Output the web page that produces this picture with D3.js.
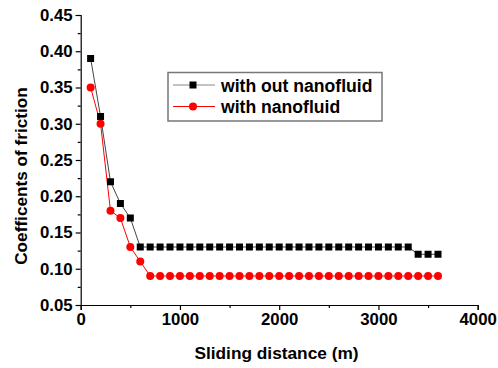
<!DOCTYPE html>
<html><head><meta charset="utf-8">
<script src="https://cdn.jsdelivr.net/npm/d3@7"></script>
<style>
html,body{margin:0;padding:0;background:#fff;}
svg{display:block;font-family:"Liberation Sans",Arial,sans-serif;}
</style></head>
<body>
<svg id="chart" width="498" height="368"></svg>
<script>
const distances = [100,200,300,400,500,600,700,800,900,1000,1100,1200,1300,1400,1500,1600,1700,1800,1900,2000,2100,2200,2300,2400,2500,2600,2700,2800,2900,3000,3100,3200,3300,3400,3500,3600];
const withoutNano = [0.39,0.31,0.22,0.19,0.17,0.13,0.13,0.13,0.13,0.13,0.13,0.13,0.13,0.13,0.13,0.13,0.13,0.13,0.13,0.13,0.13,0.13,0.13,0.13,0.13,0.13,0.13,0.13,0.13,0.13,0.13,0.13,0.13,0.12,0.12,0.12];
const withNano = [0.35,0.30,0.18,0.17,0.13,0.11,0.09,0.09,0.09,0.09,0.09,0.09,0.09,0.09,0.09,0.09,0.09,0.09,0.09,0.09,0.09,0.09,0.09,0.09,0.09,0.09,0.09,0.09,0.09,0.09,0.09,0.09,0.09,0.09,0.09,0.09];
const seriesNames = ["with out nanofluid","with nanofluid"];
const xTicks = [0,1000,2000,3000,4000];
const yTicks = [0.05,0.10,0.15,0.20,0.25,0.30,0.35,0.40,0.45];
const xTitle = "Sliding distance (m)";
const yTitle = "Coefficents of friction";

const svg = d3.select("#chart");
const x = d3.scaleLinear().domain([0,4000]).range([80.7,477.7]);
const y = d3.scaleLinear().domain([0.05,0.45]).range([305,15]);

const xAxis = d3.axisBottom(x).tickValues(xTicks).tickFormat(d3.format("d")).tickSize(5).tickPadding(3);
const xMinor = d3.axisBottom(x).tickValues(d3.range(500,4000,1000)).tickFormat("").tickSize(3);
const yAxis = d3.axisLeft(y).tickValues(yTicks).tickFormat(d3.format(".2f")).tickSize(5).tickPadding(3);
const yMinor = d3.axisLeft(y).tickValues(d3.range(0.075,0.45,0.05)).tickFormat("").tickSize(3);

function style(g){
  g.select(".domain").attr("stroke","#000").attr("stroke-width",1.2);
  g.selectAll(".tick line").attr("stroke","#000").attr("stroke-width",1.2);
  g.selectAll("text").attr("fill","#000").attr("font-size",16.8).attr("font-weight","bold").attr("font-family","Liberation Sans, Arial, sans-serif");
}
svg.append("g").attr("transform","translate(0,305)").call(xMinor).call(style).select(".domain").remove();
svg.append("g").attr("transform","translate(80.7,0)").call(yMinor).call(style).select(".domain").remove();
svg.append("g").attr("transform","translate(0,305)").call(xAxis).call(style);
svg.append("g").attr("transform","translate(80.7,0)").call(yAxis).call(style);

svg.append("text").attr("x",276.5).attr("y",359).attr("text-anchor","middle")
  .attr("font-size",17.3).attr("font-weight","bold").text(xTitle);
svg.append("text").attr("transform","translate(27,176) rotate(-90)").attr("text-anchor","middle")
  .attr("font-size",17.2).attr("font-weight","bold").text(yTitle);

const line = d3.line().x(d=>x(d[0])).y(d=>y(d[1]));
const d1 = distances.map((d,i)=>[d,withoutNano[i]]);
const d2 = distances.map((d,i)=>[d,withNano[i]]);
svg.append("path").datum(d2).attr("d",line).attr("fill","none").attr("stroke","#ff0000").attr("stroke-width",1);
svg.append("path").datum(d1).attr("d",line).attr("fill","none").attr("stroke","#444").attr("stroke-width",1);
svg.append("g").selectAll("circle").data(d2).join("circle")
  .attr("cx",d=>x(d[0])).attr("cy",d=>y(d[1])).attr("r",4).attr("fill","#ff0000");
svg.append("g").selectAll("rect").data(d1).join("rect")
  .attr("x",d=>x(d[0])-3.5).attr("y",d=>y(d[1])-3.5).attr("width",7).attr("height",7).attr("fill","#000");

const lg = svg.append("g");
lg.append("rect").attr("x",168).attr("y",72.5).attr("width",214).attr("height",48.5)
  .attr("fill","#fff").attr("stroke","#777").attr("stroke-width",1.5);
const rows = [{name:seriesNames[0],color:"#888",mark:"square",cy:85},{name:seriesNames[1],color:"#ff0000",mark:"circle",cy:106.5}];
rows.forEach(r=>{
  lg.append("line").attr("x1",173).attr("x2",215).attr("y1",r.cy).attr("y2",r.cy).attr("stroke",r.color).attr("stroke-width",1);
  if(r.mark==="square") lg.append("rect").attr("x",193-3.5).attr("y",r.cy-3.5).attr("width",7).attr("height",7).attr("fill","#000");
  else lg.append("circle").attr("cx",193).attr("cy",r.cy).attr("r",4).attr("fill","#ff0000");
  lg.append("text").attr("x",221).attr("y",r.cy+6.5).attr("font-size",17.6).attr("font-weight","bold").attr("fill","#000").text(r.name);
});
</script>
</body></html>
